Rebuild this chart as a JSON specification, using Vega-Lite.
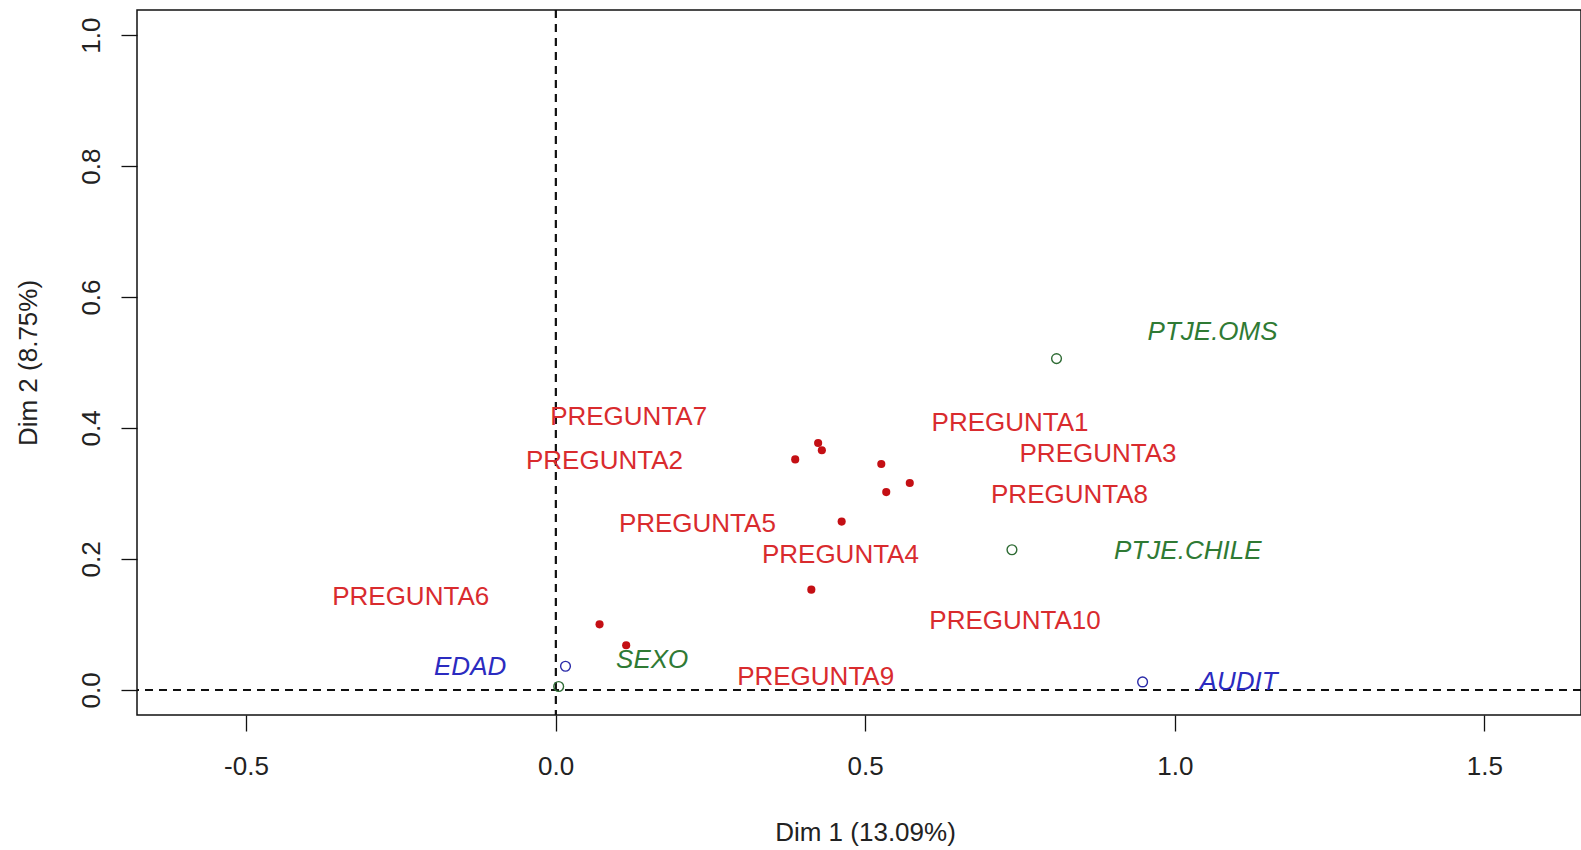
{
  "$schema": "https://vega.github.io/schema/vega-lite/v6.json",
  "width": 1444,
  "height": 705,
  "autosize": {"type": "none"},
  "padding": {"left": 137, "top": 10, "right": 0, "bottom": 135},
  "background": "white",
  "config": {"font": "Liberation Sans", "view": {"stroke": "#111111", "strokeWidth": 1.5}},
  "data": {"values": [
    {"nombre": "PREGUNTA1", "grupo": "Preguntas", "x": 0.526, "y": 0.345, "lx": 0.734, "ly": 0.407},
    {"nombre": "PREGUNTA2", "grupo": "Preguntas", "x": 0.387, "y": 0.352, "lx": 0.079, "ly": 0.350},
    {"nombre": "PREGUNTA3", "grupo": "Preguntas", "x": 0.572, "y": 0.316, "lx": 0.876, "ly": 0.360},
    {"nombre": "PREGUNTA4", "grupo": "Preguntas", "x": 0.462, "y": 0.257, "lx": 0.460, "ly": 0.206},
    {"nombre": "PREGUNTA5", "grupo": "Preguntas", "x": 0.430, "y": 0.366, "lx": 0.229, "ly": 0.254},
    {"nombre": "PREGUNTA6", "grupo": "Preguntas", "x": 0.071, "y": 0.100, "lx": -0.234, "ly": 0.142},
    {"nombre": "PREGUNTA7", "grupo": "Preguntas", "x": 0.424, "y": 0.377, "lx": 0.118, "ly": 0.417},
    {"nombre": "PREGUNTA8", "grupo": "Preguntas", "x": 0.534, "y": 0.302, "lx": 0.830, "ly": 0.297},
    {"nombre": "PREGUNTA9", "grupo": "Preguntas", "x": 0.114, "y": 0.068, "lx": 0.420, "ly": 0.020},
    {"nombre": "PREGUNTA10", "grupo": "Preguntas", "x": 0.413, "y": 0.153, "lx": 0.742, "ly": 0.105},
    {"nombre": "EDAD", "grupo": "Edad/Audit", "x": 0.016, "y": 0.036, "lx": -0.138, "ly": 0.035},
    {"nombre": "AUDIT", "grupo": "Edad/Audit", "x": 0.948, "y": 0.012, "lx": 1.103, "ly": 0.012},
    {"nombre": "SEXO", "grupo": "Sexo/Puntajes", "x": 0.005, "y": 0.005, "lx": 0.156, "ly": 0.045},
    {"nombre": "PTJE.OMS", "grupo": "Sexo/Puntajes", "x": 0.809, "y": 0.506, "lx": 1.061, "ly": 0.547},
    {"nombre": "PTJE.CHILE", "grupo": "Sexo/Puntajes", "x": 0.737, "y": 0.214, "lx": 1.021, "ly": 0.212}
  ]},
  "resolve": {"scale": {"color": "independent"}},
  "layer": [
    {
      "mark": {"type": "rule", "strokeDash": [8, 6], "color": "#111111", "strokeWidth": 1.2},
      "encoding": {"x": {"datum": 0, "type": "quantitative", "scale": {"domain": [-0.676, 1.656], "nice": false, "zero": false},
        "axis": {"values": [-0.5, 0, 0.5, 1, 1.5], "labelExpr": "datum.value < 0 ? '-' + format(-datum.value, '.1f') : format(datum.value, '.1f')", "grid": false, "domain": false, "tickColor": "#111111", "tickSize": 16, "tickWidth": 1.3,
          "labelFontSize": 26, "labelColor": "#222222", "labelPadding": 22, "labelBaseline": "top",
          "title": "Dim 1 (13.09%)", "titleX": 728, "titleFontSize": 26, "titleFontWeight": "normal", "titleColor": "#222222", "titlePadding": 40}}}
    },
    {
      "mark": {"type": "rule", "strokeDash": [8, 6], "color": "#111111", "strokeWidth": 1.2},
      "encoding": {"y": {"datum": 0, "type": "quantitative", "scale": {"domain": [-0.0385, 1.0385], "nice": false, "zero": false},
        "axis": {"values": [0, 0.2, 0.4, 0.6, 0.8, 1.0], "format": ".1f", "grid": false, "domain": false, "tickColor": "#111111", "tickSize": 16, "tickWidth": 1.3,
          "labelFontSize": 26, "labelColor": "#222222", "labelAngle": 270, "labelAlign": "center", "labelBaseline": "middle", "labelPadding": 30,
          "title": "Dim 2 (8.75%)", "titleFontSize": 26, "titleFontWeight": "normal", "titleColor": "#222222", "titlePadding": 37}}}
    },
    {
      "transform": [{"filter": "datum.grupo == 'Preguntas'"}],
      "mark": {"type": "point", "shape": "circle", "filled": true, "size": 66, "color": "#C40F14", "opacity": 1},
      "encoding": {"x": {"field": "x", "type": "quantitative"}, "y": {"field": "y", "type": "quantitative"}}
    },
    {
      "transform": [{"filter": "datum.grupo != 'Preguntas'"}],
      "mark": {"type": "point", "shape": "circle", "filled": false, "size": 95, "strokeWidth": 1.4, "opacity": 1},
      "encoding": {"x": {"field": "x", "type": "quantitative"}, "y": {"field": "y", "type": "quantitative"},
        "color": {"field": "grupo", "type": "nominal", "scale": {"domain": ["Edad/Audit", "Sexo/Puntajes"], "range": ["#2A2AA8", "#2E6B34"]}, "legend": null}}
    },
    {
      "transform": [{"filter": "datum.grupo == 'Preguntas'"}],
      "mark": {"type": "text", "fontSize": 26, "align": "center", "baseline": "middle", "color": "#D92B2E"},
      "encoding": {"x": {"field": "lx", "type": "quantitative"}, "y": {"field": "ly", "type": "quantitative"}, "text": {"field": "nombre"}}
    },
    {
      "transform": [{"filter": "datum.grupo != 'Preguntas'"}],
      "mark": {"type": "text", "fontSize": 26, "align": "center", "baseline": "middle", "fontStyle": "italic"},
      "encoding": {"x": {"field": "lx", "type": "quantitative"}, "y": {"field": "ly", "type": "quantitative"}, "text": {"field": "nombre"},
        "color": {"field": "grupo", "type": "nominal", "scale": {"domain": ["Edad/Audit", "Sexo/Puntajes"], "range": ["#2B2BC0", "#2F7A34"]}, "legend": null}}
    }
  ]
}
